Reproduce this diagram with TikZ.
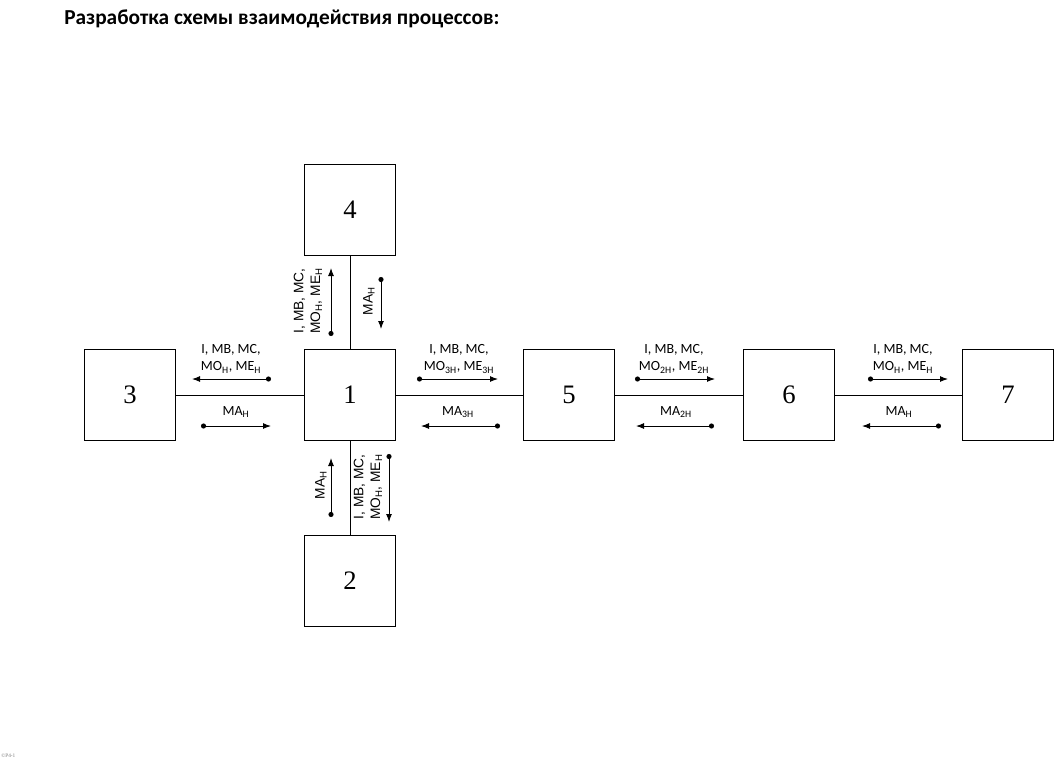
\documentclass[tikz,border=0pt]{standalone}
\usepackage{fontspec}
\setmainfont{Liberation Serif}
\newfontfamily\lbl{Carlito}
\newfontfamily\lblv{Liberation Sans}
\usetikzlibrary{arrows.meta}
\newcommand\lsub[1]{\textsubscript{#1}}
\begin{document}
\begin{tikzpicture}[x=0.75pt,y=-0.75pt,
  proc/.style={draw,line width=1.1pt,minimum size=68.5pt,inner sep=0pt,font=\fontsize{20}{24}\selectfont},
  link/.style={line width=0.75pt},
  sig/.style={line width=0.75pt,{Circle[length=3.8pt]}-{Latex[length=6pt,width=4.5pt]}},
  lab/.style={inner sep=0pt,align=center,font=\lbl\fontsize{10.5}{12.75}\selectfont},
  labv/.style={inner sep=0pt,align=center,rotate=90,font=\lblv\fontsize{10.3}{12.5}\selectfont}]
\useasboundingbox (0,0) rectangle (1056,760);
\node[anchor=base west,inner sep=0pt,font=\lbl\bfseries\fontsize{16}{19}\selectfont] (title) at (64,24) {Разработка схемы взаимодействия процессов:};
% boxes
\node[proc] (b1) at (350,395) {1};
\node[proc] (b4) at (350,210) {4};
\node[proc] (b2) at (350,581) {2};
\node[proc] (b3) at (130,395) {3};
\node[proc] (b5) at (569,395) {5};
\node[proc] (b6) at (789,395) {6};
\node[proc] (b7) at (1008,395) {7};
% links
\draw[link] (b3) -- (b1);
\draw[link] (b1) -- (b5);
\draw[link] (b5) -- (b6);
\draw[link] (b6) -- (b7);
\draw[link] (b4) -- (b1);
\draw[link] (b1) -- (b2);
% 3 - 1
\coordinate (s31a) at (271,379); \coordinate (e31a) at (192,379);
\coordinate (s31b) at (201,426); \coordinate (e31b) at (271,426);
\draw[sig] (s31a) -- (e31a);
\draw[sig] (s31b) -- (e31b);
\node[lab] (l31a) at (231,359) {I, MB, MC,\\MO\lsub{Н}, ME\lsub{Н}};
\node[lab] (l31b) at (236,412) {MA\lsub{Н}};
% 1 - 5
\coordinate (s15a) at (417,379); \coordinate (e15a) at (498,379);
\coordinate (s15b) at (500,426); \coordinate (e15b) at (421,426);
\draw[sig] (s15a) -- (e15a);
\draw[sig] (s15b) -- (e15b);
\node[lab] (l15a) at (459,359) {I, MB, MC,\\MO\lsub{3Н}, ME\lsub{3Н}};
\node[lab] (l15b) at (458,412) {MA\lsub{3Н}};
% 5 - 6
\coordinate (s56a) at (635,379); \coordinate (e56a) at (715,379);
\coordinate (s56b) at (714,426); \coordinate (e56b) at (636,426);
\draw[sig] (s56a) -- (e56a);
\draw[sig] (s56b) -- (e56b);
\node[lab] (l56a) at (674,359) {I, MB, MC,\\MO\lsub{2Н}, ME\lsub{2Н}};
\node[lab] (l56b) at (676,412) {MA\lsub{2Н}};
% 6 - 7
\coordinate (s67a) at (868,379); \coordinate (e67a) at (948,379);
\coordinate (s67b) at (941,426); \coordinate (e67b) at (862,426);
\draw[sig] (s67a) -- (e67a);
\draw[sig] (s67b) -- (e67b);
\node[lab] (l67a) at (903,359) {I, MB, MC,\\MO\lsub{Н}, ME\lsub{Н}};
\node[lab] (l67b) at (899,412) {MA\lsub{Н}};
% 4 - 1
\coordinate (s41a) at (331,336); \coordinate (e41a) at (331,268);
\coordinate (s41b) at (381,277); \coordinate (e41b) at (381,329);
\draw[sig] (s41a) -- (e41a);
\draw[sig] (s41b) -- (e41b);
\node[labv] (l41a) at (308,301) {I, MB, MC,\\MO\lsub{Н}, ME\lsub{Н}};
\node[labv] (l41b) at (369,301) {MA\lsub{Н}};
% 1 - 2
\coordinate (s12a) at (331,517); \coordinate (e12a) at (331,458);
\coordinate (s12b) at (389,454); \coordinate (e12b) at (389,522);
\draw[sig] (s12a) -- (e12a);
\draw[sig] (s12b) -- (e12b);
\node[labv] (l12a) at (321,485) {MA\lsub{Н}};
\node[labv] (l12b) at (368,487) {I, MB, MC,\\MO\lsub{Н}, ME\lsub{Н}};
% footer
\node[anchor=west,inner sep=0pt,text=gray,font=\fontsize{4}{5}\selectfont] (foot) at (1,756) {©P4-1};
\end{tikzpicture}
\end{document}
